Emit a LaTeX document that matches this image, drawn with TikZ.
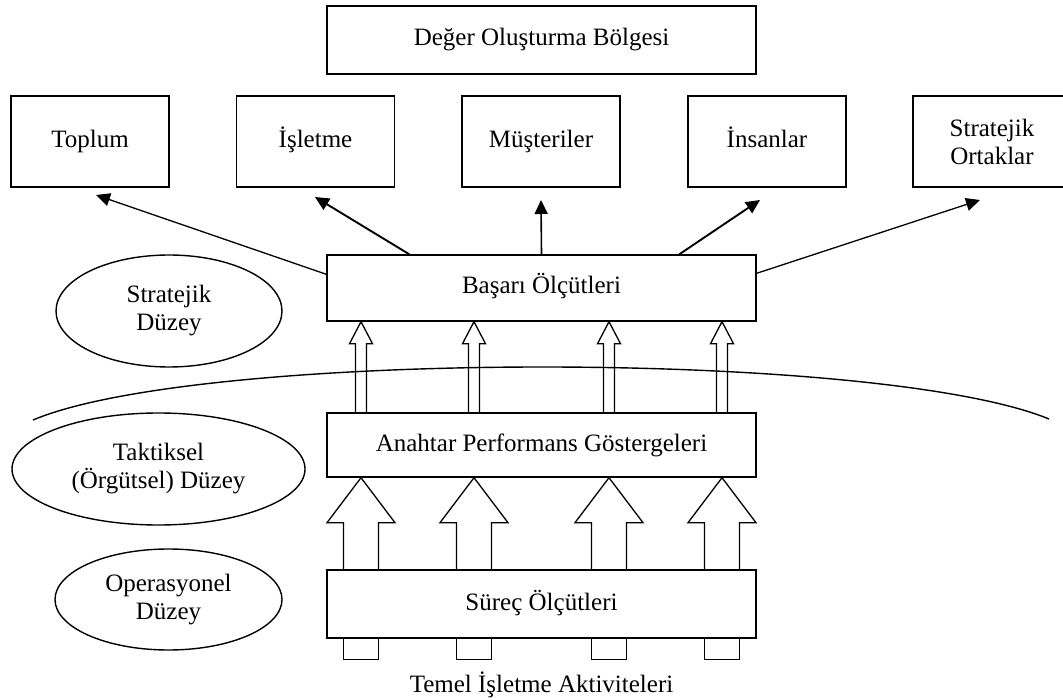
\documentclass[tikz,border=0pt]{standalone}
\usepackage{fontspec}
\setmainfont{Liberation Serif}
\usetikzlibrary{arrows.meta,shapes.geometric,calc}

% slim hollow arrow: x position, lower node, upper node
\newcommand\slimup[3]{%
  \draw[outline] let \p1=(#2.north), \p2=(#3.south) in
    ({#1pt-5.5pt},\y1) -- ({#1pt-5.5pt},{\y2-22pt}) -- ({#1pt-11.5pt},{\y2-22pt})
    -- (#1pt,\y2) -- ({#1pt+11.5pt},{\y2-22pt}) -- ({#1pt+5.5pt},{\y2-22pt})
    -- ({#1pt+5.5pt},\y1);}
% wide hollow arrow: x position, lower node, upper node
\newcommand\wideup[3]{%
  \draw[outline] let \p1=(#2.north), \p2=(#3.south) in
    ({#1pt-17.5pt},\y1) -- ({#1pt-17.5pt},{\y2-45pt}) -- ({#1pt-34pt},{\y2-45pt})
    -- (#1pt,\y2) -- ({#1pt+34pt},{\y2-45pt}) -- ({#1pt+17.5pt},{\y2-45pt})
    -- ({#1pt+17.5pt},\y1);}
% open stub under a node: x position, node
\newcommand\feedstub[2]{%
  \draw[outline] let \p1=(#2.south) in
    ({#1pt-17.5pt},\y1) -- ({#1pt-17.5pt},{\y1-21pt}) -- ({#1pt+17.5pt},{\y1-21pt})
    -- ({#1pt+17.5pt},\y1);}

\begin{document}
\begin{tikzpicture}[x=1pt,y=-1pt,
  txt/.style={font=\fontsize{25}{28}\selectfont, align=center},
  oneline/.style={font=\fontsize{25}{28}\selectfont, text height=17pt, text depth=5pt},
  frame/.style={draw, line width=1.4pt, rectangle, inner sep=0pt},
  areabox/.style={frame, minimum width=158pt, minimum height=91pt},
  widebox/.style={frame, oneline, minimum width=429pt},
  level/.style={txt, draw, line width=1.4pt, ellipse, inner sep=0pt},
  link/.style={-{Triangle[length=14pt,width=13pt]}, line width=1.3pt},
  linkbold/.style={link, line width=1.9pt},
  outline/.style={line width=1.3pt, line join=miter}
]
\useasboundingbox (0,0) rectangle (1063,700);
\clip (0,0) rectangle (1063,700);

% value creation area and its stakeholders
\node[widebox, minimum height=68pt] (deger) at (541.5,40) {Değer Oluşturma Bölgesi};
\node[areabox, oneline] (toplum)  at (90,141.5)    {Toplum};
\node[areabox, oneline] (isletme) at (315.5,141.5) {İşletme};
\node[areabox, oneline] (musteri) at (541,141.5)   {Müşteriler};
\node[areabox, oneline] (insan)   at (767,141.5)   {İnsanlar};
\node[areabox, txt]     (ortak)   at (992,141.5)   {Stratejik\\Ortaklar};

% measurement levels
\node[widebox, minimum height=66pt] (basari)  at (541.5,288) {Başarı Ölçütleri};
\node[widebox, minimum height=64pt] (anahtar) at (541.5,445) {Anahtar Performans Göstergeleri};
\node[widebox, minimum height=68pt] (surec)   at (541.5,604) {Süreç Ölçütleri};
\node[txt, anchor=base] (temel) at (541.5,692) {Temel İşletme Aktiviteleri};

% level labels
\node[level, minimum width=226pt, minimum height=112pt] (strat) at (169,311)     {Stratejik\\Düzey};
\node[level, minimum width=293pt, minimum height=112pt] (takt)  at (158.5,469)   {Taktiksel\\(Örgütsel) Düzey};
\node[level, minimum width=227pt, minimum height=101pt] (oper)  at (168.5,599.5) {Operasyonel\\Düzey};

% boundary between strategic and tactical levels
\draw[line width=1.4pt] (33,420) .. controls (200,349.5) and (880,349.5) .. (1049,419);

% arrow tips below the stakeholder boxes
\coordinate (tToplum)  at (96,195);
\coordinate (tIsletme) at (315,197);
\coordinate (tMusteri) at (541,200);
\coordinate (tInsan)   at (760,200);
\coordinate (tOrtak)   at (980,200);

\draw[link] ([yshift=-20pt]basari.north west) -- (tToplum);
\draw[linkbold] ([xshift=83pt]basari.north west) -- (tIsletme);
\draw[link, line width=1.6pt] (basari.north) -- (tMusteri);
\draw[linkbold] ([xshift=353pt]basari.north west) -- (tInsan);
\draw[link] ([yshift=-19pt]basari.north east) -- (tOrtak);

% hollow arrows between the measurement boxes
\foreach \px in {361,474,609,722} {
  \slimup{\px}{anahtar}{basari}
  \wideup{\px}{surec}{anahtar}
  \feedstub{\px}{surec}
}
\end{tikzpicture}
\end{document}
